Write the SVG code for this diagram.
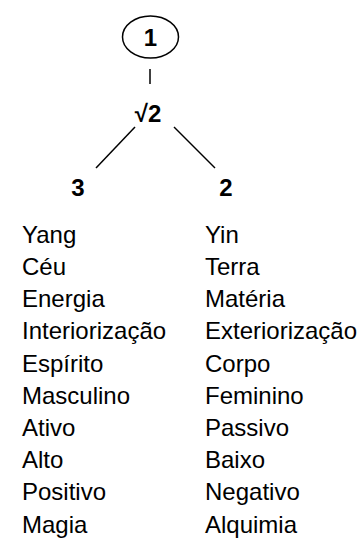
<svg xmlns="http://www.w3.org/2000/svg" width="358" height="541" viewBox="0 0 358 541">
  <style>
    .num { font-family: "Liberation Sans", Arial, sans-serif; font-size: 24px; font-weight: bold; fill: #000; }
    .item { font-family: "Liberation Sans", Arial, sans-serif; font-size: 24px; fill: #000; }
    .edge { stroke: #000; stroke-width: 1.5; fill: none; }
  </style>
  <rect width="358" height="541" fill="#fff"/>

  <!-- root: the One -->
  <g id="node-1">
    <ellipse cx="150.5" cy="37" rx="28" ry="21" fill="none" stroke="#000" stroke-width="1.5"/>
    <text class="num" x="150.5" y="45.5" text-anchor="middle">1</text>
  </g>

  <!-- square root of two -->
  <g id="node-sqrt2">
    <text class="num" x="148" y="122" text-anchor="middle">√2</text>
  </g>

  <g id="node-3">
    <text class="num" x="78" y="196" text-anchor="middle">3</text>
  </g>

  <g id="node-2">
    <text class="num" x="226" y="196" text-anchor="middle">2</text>
  </g>

  <g id="connectors">
    <line class="edge" x1="150" y1="69" x2="150" y2="84"/>
    <line class="edge" x1="135" y1="127" x2="96" y2="168"/>
    <line class="edge" x1="174" y1="127" x2="215" y2="168"/>
  </g>

  <!-- left column: qualities of 3 -->
  <g id="list-3" class="item">
    <text x="22" y="243">Yang</text>
    <text x="22" y="275">Céu</text>
    <text x="22" y="307">Energia</text>
    <text x="22" y="339">Interiorização</text>
    <text x="22" y="372">Espírito</text>
    <text x="22" y="404">Masculino</text>
    <text x="22" y="436">Ativo</text>
    <text x="22" y="468">Alto</text>
    <text x="22" y="500">Positivo</text>
    <text x="22" y="533">Magia</text>
  </g>

  <!-- right column: qualities of 2 -->
  <g id="list-2" class="item">
    <text x="205" y="243">Yin</text>
    <text x="205" y="275">Terra</text>
    <text x="205" y="307">Matéria</text>
    <text x="205" y="339">Exteriorização</text>
    <text x="205" y="372">Corpo</text>
    <text x="205" y="404">Feminino</text>
    <text x="205" y="436">Passivo</text>
    <text x="205" y="468">Baixo</text>
    <text x="205" y="500">Negativo</text>
    <text x="205" y="533">Alquimia</text>
  </g>
</svg>
